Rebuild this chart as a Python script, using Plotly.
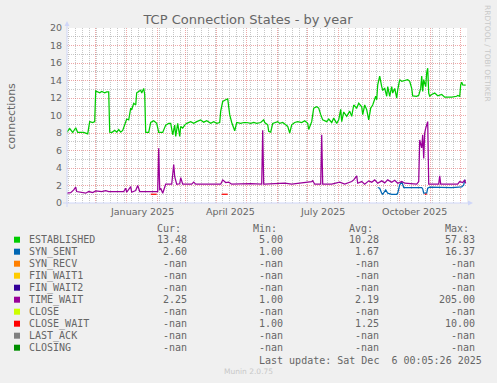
import plotly.graph_objects as go

# ---------------- data ----------------
est_dates = [
    "2024-11-02", "2024-11-05", "2024-11-08", "2024-11-11", "2024-11-13", "2024-11-19", "2024-11-23", "2024-11-25", "2024-11-28", "2024-11-30",
    "2024-12-01", "2024-12-03", "2024-12-05", "2024-12-07", "2024-12-10", "2024-12-12", "2024-12-14", "2024-12-15", "2024-12-17", "2024-12-20",
    "2024-12-22", "2024-12-24", "2024-12-26", "2024-12-28", "2024-12-30",
    "2025-01-01", "2025-01-03", "2025-01-05", "2025-01-06", "2025-01-08", "2025-01-10", "2025-01-11", "2025-01-13", "2025-01-15", "2025-01-16",
    "2025-01-18", "2025-01-19", "2025-01-20", "2025-01-23", "2025-01-25", "2025-01-28", "2025-01-31",
    "2025-02-02", "2025-02-06", "2025-02-09", "2025-02-12", "2025-02-14", "2025-02-16", "2025-02-18", "2025-02-19", "2025-02-21", "2025-02-23",
    "2025-02-24", "2025-02-26", "2025-02-28",
    "2025-03-02", "2025-03-06", "2025-03-09", "2025-03-12", "2025-03-16", "2025-03-19", "2025-03-22", "2025-03-26", "2025-03-29",
    "2025-04-01", "2025-04-04", "2025-04-05", "2025-04-07", "2025-04-10", "2025-04-12", "2025-04-14", "2025-04-16", "2025-04-19", "2025-04-21",
    "2025-04-25", "2025-04-28",
    "2025-05-01", "2025-05-05", "2025-05-08", "2025-05-11", "2025-05-15", "2025-05-18", "2025-05-19", "2025-05-22", "2025-05-23", "2025-05-25",
    "2025-05-27", "2025-05-30",
    "2025-06-01", "2025-06-03", "2025-06-06", "2025-06-09", "2025-06-11", "2025-06-13", "2025-06-15", "2025-06-18", "2025-06-21", "2025-06-25",
    "2025-06-28",
    "2025-07-01", "2025-07-02", "2025-07-05", "2025-07-07", "2025-07-10", "2025-07-12", "2025-07-14", "2025-07-16", "2025-07-20", "2025-07-22",
    "2025-07-25", "2025-07-27", "2025-07-30",
    "2025-08-01", "2025-08-03", "2025-08-04", "2025-08-06", "2025-08-09", "2025-08-12", "2025-08-14", "2025-08-16", "2025-08-19", "2025-08-21",
    "2025-08-24", "2025-08-25", "2025-08-27", "2025-08-29", "2025-08-31",
    "2025-09-02", "2025-09-04", "2025-09-07", "2025-09-08", "2025-09-09", "2025-09-11", "2025-09-13", "2025-09-14", "2025-09-16", "2025-09-18",
    "2025-09-19", "2025-09-21", "2025-09-23", "2025-09-24", "2025-09-26", "2025-09-28", "2025-09-29",
    "2025-10-01", "2025-10-03", "2025-10-06", "2025-10-09", "2025-10-11", "2025-10-13", "2025-10-14", "2025-10-18", "2025-10-20", "2025-10-22",
    "2025-10-23", "2025-10-24", "2025-10-25", "2025-10-27", "2025-10-28", "2025-10-29", "2025-10-30", "2025-10-31",
    "2025-11-02", "2025-11-05", "2025-11-08", "2025-11-12", "2025-11-15", "2025-11-22", "2025-11-27", "2025-11-28", "2025-11-30",
    "2025-12-01", "2025-12-02", "2025-12-03", "2025-12-06",
]
est_values = [
    8.06, 8.5, 8.06, 8.6, 8.06, 8.06, 7.9, 9.3, 9.2, 9.3,
    12.8, 12.7, 12.6, 12.75, 12.6, 12.7, 12.7, 8.1, 8.06, 8.3, 8.1, 8.4, 8.1, 8.3, 9.1,
    9.6, 9.5, 10.85, 10.66, 11.4, 11.2, 12.6, 12.75, 12.9, 12.56, 13.1, 12.4, 8.06, 8.06, 9.2, 9.4, 9.1,
    8.06, 8.06, 8.9, 9.1, 9.1, 7.8, 8.9, 7.6, 9.1, 7.6, 8.75, 8.56, 8.9,
    9.1, 9.3, 9.1, 9.3, 9.5, 9.24, 9.4, 9.1, 9.3,
    9.1, 9.2, 10.5, 11.6, 11.8, 11.9, 10.1, 9.2, 8.25, 9.2, 9.1, 9.2,
    9.2, 9.1, 9.2, 9.1, 9.2, 9.5, 9.2, 8.94, 8.2, 8.1, 9.1, 9.2,
    9.3, 9.1, 9.2, 8.94, 8.75, 8.0, 8.94, 9.2, 9.3, 9.2, 9.4,
    9.1, 8.4, 9.3, 10.85, 11.0, 10.85, 10.1, 9.5, 9.3, 9.6, 9.2, 9.7, 9.1,
    9.5, 10.7, 9.3, 10.4, 9.9, 10.5, 9.9, 11.2, 10.85, 11.4, 11.0, 10.1, 11.2, 10.66, 9.5,
    10.85, 11.2, 12.2, 11.8, 13.5, 14.5, 13.3, 12.9, 13.1, 12.2, 13.3, 12.2, 13.3, 12.56, 13.1, 12.0, 12.94,
    14.1, 13.9, 14.0, 14.1, 13.9, 13.1, 12.25, 12.2, 12.3, 13.1, 14.5, 12.75, 14.1, 13.3, 14.9, 15.4, 12.56, 12.2,
    12.4, 12.56, 12.25, 12.4, 12.1, 12.1, 12.2, 12.3, 12.2,
    13.5, 13.8, 13.5, 13.48,
]

tw_dates = [
    "2024-11-02", "2024-11-06", "2024-11-09", "2024-11-11", "2024-11-12", "2024-11-16", "2024-11-21", "2024-11-24", "2024-11-28",
    "2024-12-01", "2024-12-04", "2024-12-07", "2024-12-11", "2024-12-14", "2024-12-17", "2024-12-22", "2024-12-27", "2024-12-29", "2024-12-31",
    "2025-01-01", "2025-01-05", "2025-01-06", "2025-01-10", "2025-01-12", "2025-01-14", "2025-01-18", "2025-01-21", "2025-01-25", "2025-01-28",
    "2025-01-31",
    "2025-02-01", "2025-02-02", "2025-02-03", "2025-02-04", "2025-02-06", "2025-02-09", "2025-02-13", "2025-02-15", "2025-02-17", "2025-02-18",
    "2025-02-20", "2025-02-23", "2025-02-24", "2025-02-26",
    "2025-03-07", "2025-03-09", "2025-03-11",
    "2025-04-05", "2025-04-07", "2025-04-10", "2025-04-13", "2025-04-16", "2025-04-25",
    "2025-05-05", "2025-05-16", "2025-05-17", "2025-05-18", "2025-05-19",
    "2025-06-08", "2025-06-15",
    "2025-07-05", "2025-07-06", "2025-07-08", "2025-07-14", "2025-07-15", "2025-07-16", "2025-07-25",
    "2025-08-02", "2025-08-07", "2025-08-14", "2025-08-16", "2025-08-19", "2025-08-20", "2025-08-24", "2025-08-27", "2025-08-31",
    "2025-09-03", "2025-09-06", "2025-09-09", "2025-09-13", "2025-09-16", "2025-09-19", "2025-09-23", "2025-09-26", "2025-09-29",
    "2025-10-03", "2025-10-06", "2025-10-13", "2025-10-18", "2025-10-20", "2025-10-21", "2025-10-23", "2025-10-24", "2025-10-25", "2025-10-26",
    "2025-10-27", "2025-10-29", "2025-10-30",
    "2025-11-09", "2025-11-10", "2025-11-11", "2025-11-28", "2025-11-30",
    "2025-12-03", "2025-12-05", "2025-12-06",
]
tw_values = [
    1.12, 1.19, 1.5, 1.8, 1.31, 1.19, 1.12, 1.31, 1.19,
    1.38, 1.31, 1.31, 1.42, 1.31, 1.31, 1.31, 1.23, 1.31, 1.69,
    1.23, 1.88, 1.23, 1.42, 2.0, 1.31, 1.31, 1.31, 1.31, 1.38, 1.31,
    1.31, 6.27, 1.5, 1.69, 1.12, 2.15, 2.15, 2.15, 4.4, 3.0, 2.15, 2.2, 2.9, 2.15,
    2.15, 2.38, 2.15,
    2.15, 2.64, 2.34, 2.38, 2.15, 2.19,
    2.22, 2.15, 8.3, 2.15, 2.15,
    2.26, 2.15,
    2.45, 2.55, 2.15, 2.15, 7.8, 2.15, 2.15,
    2.38, 2.15, 2.45, 2.64, 3.1, 2.26, 2.45, 2.15, 2.53,
    2.38, 2.64, 2.26, 2.53, 2.3, 2.64, 2.38, 2.6, 2.26,
    2.45, 2.26, 2.15, 2.15, 2.45, 7.2, 6.3, 7.8, 5.1, 7.98, 8.55, 9.3, 2.15,
    2.15, 3.1, 2.15, 2.15, 2.45,
    2.34, 2.64, 2.25,
]

ss_dates = [
    "2025-09-09", "2025-09-11", "2025-09-13", "2025-09-14", "2025-09-17", "2025-09-19", "2025-09-23", "2025-09-28", "2025-09-29",
    "2025-10-01", "2025-10-03", "2025-10-04", "2025-10-05", "2025-10-23", "2025-10-24", "2025-10-25", "2025-10-28", "2025-10-29", "2025-10-31",
    "2025-11-22", "2025-12-02", "2025-12-04", "2025-12-05", "2025-12-06",
]
ss_values = [
    1.77, 1.69, 1.12, 1.0, 1.5, 1.12, 1.0, 1.0, 1.12,
    2.07, 2.45, 2.07, 1.77, 1.77, 1.61, 1.12, 1.12, 1.69, 1.8,
    1.77, 1.84, 2.07, 2.6, 2.6,
]

cw_dates = ["2025-01-25", "2025-01-31", "2025-02-01", "2025-04-06", "2025-04-12", "2025-04-13", "2025-10-26", "2025-10-28"]
cw_values = [1.0, 1.0, None, 1.0, 1.0, None, 1.0, 1.0]

series_names = ["ESTABLISHED", "SYN_SENT", "SYN_RECV", "FIN_WAIT1", "FIN_WAIT2",
                "TIME_WAIT", "CLOSE", "CLOSE_WAIT", "LAST_ACK", "CLOSING"]
series_colors = ["#00CC00", "#0066B3", "#FF8000", "#FFCC00", "#330099",
                 "#990099", "#CCFF00", "#FF0000", "#808080", "#008F00"]
cur_vals = ["13.48", "2.60", "-nan", "-nan", "-nan", "2.25", "-nan", "-nan", "-nan", "-nan"]
min_vals = ["5.00", "1.00", "-nan", "-nan", "-nan", "1.00", "-nan", "1.00", "-nan", "-nan"]
avg_vals = ["10.28", "1.67", "-nan", "-nan", "-nan", "2.19", "-nan", "1.25", "-nan", "-nan"]
max_vals = ["57.83", "16.37", "-nan", "-nan", "-nan", "205.00", "-nan", "10.00", "-nan", "-nan"]

month_label_dates = ["2025-01-16", "2025-04-15", "2025-07-16", "2025-10-16"]
month_labels = ["January 2025", "April 2025", "July 2025", "October 2025"]

# ---------------- geometry helpers ----------------
W, H = 497, 383
L, R, T, B = 67, 30, 28, 180
PW = W - L - R
PH = H - T - B
BOT = H - B


def px(x):
    return (x - L) / PW


def py(y):
    return (BOT - y) / PH


FONT = "#666666"
AXIS = "#CFD6F8"
MGRID = "rgba(222,79,79,0.5)"
GRID = "rgba(143,143,143,0.5)"

fig = go.Figure()
lines = [
    (est_dates, est_values, "#00CC00"),
    (ss_dates, ss_values, "#0066B3"),
    (tw_dates, tw_values, "#990099"),
    (cw_dates, cw_values, "#FF0000"),
]
for xs, ys, col in lines:
    fig.add_trace(go.Scatter(x=xs, y=ys, mode="lines", line=dict(color=col, width=1.25),
                             connectgaps=False, hoverinfo="skip", showlegend=False))

annotations = []
shapes = []

# month labels
for d, t in zip(month_label_dates, month_labels):
    annotations.append(dict(x=d, y=py(211.7), xref="x", yref="paper", text=t, showarrow=False,
                            xanchor="center", yanchor="middle",
                            font=dict(family="DejaVu Sans", size=9.5, color=FONT)))

# y axis title
annotations.append(dict(x=px(11), y=py(115.5), xref="paper", yref="paper", text="connections",
                        textangle=-90, showarrow=False, xanchor="center", yanchor="middle",
                        font=dict(family="DejaVu Sans", size=11, color=FONT)))
# rrdtool credit
annotations.append(dict(x=px(488), y=py(53), xref="paper", yref="paper", text="RRDTOOL / TOBI OETIKER",
                        textangle=90, showarrow=False, xanchor="center", yanchor="middle",
                        font=dict(family="DejaVu Sans", size=7.5, color="#C8C8C8")))
# munin version
annotations.append(dict(x=px(248), y=py(371.7), xref="paper", yref="paper", text="Munin 2.0.75",
                        showarrow=False, xanchor="center", yanchor="middle",
                        font=dict(family="DejaVu Sans", size=7.5, color="#C8C8C8")))

mono = dict(family="DejaVu Sans Mono", size=10, color=FONT)
# legend header
for txt, xr in zip(["Cur:", "Min:", "Avg:", "Max:"], [182.7, 278.7, 374.7, 470.7]):
    annotations.append(dict(x=px(xr), y=py(228.3), xref="paper", yref="paper", text=txt,
                            showarrow=False, xanchor="right", yanchor="middle", font=mono))
# legend rows
for i, name in enumerate(series_names):
    yc = 239.7 + 12 * i
    shapes.append(dict(type="rect", xref="paper", yref="paper", x0=px(14), x1=px(20),
                       y0=py(yc + 3), y1=py(yc - 3), fillcolor=series_colors[i], line=dict(width=0)))
    annotations.append(dict(x=px(26.7), y=py(yc), xref="paper", yref="paper", text=name,
                            showarrow=False, xanchor="left", yanchor="middle", font=mono))
    for vals, xr in zip([cur_vals, min_vals, avg_vals, max_vals], [188.7, 284.7, 380.7, 476.7]):
        annotations.append(dict(x=px(xr), y=py(yc), xref="paper", yref="paper", text=vals[i],
                                showarrow=False, xanchor="right", yanchor="middle", font=mono))
annotations.append(dict(x=px(483.7), y=py(360), xref="paper", yref="paper",
                        text="Last update: Sat Dec\u00a0\u00a06 00:05:26 2025",
                        showarrow=False, xanchor="right", yanchor="middle", font=mono))

# axes lines and arrows
shapes.append(dict(type="line", xref="paper", yref="paper", x0=px(67), x1=px(67), y0=py(207), y1=py(25),
                   line=dict(color=AXIS, width=1)))
shapes.append(dict(type="line", xref="paper", yref="paper", x0=px(63), x1=px(469), y0=py(203), y1=py(203),
                   line=dict(color=AXIS, width=1)))
shapes.append(dict(type="path", xref="paper", yref="paper",
                   path=f"M {px(64.5)} {py(26)} L {px(69.5)} {py(26)} L {px(67)} {py(21)} Z",
                   fillcolor=AXIS, line=dict(width=0)))
shapes.append(dict(type="path", xref="paper", yref="paper",
                   path=f"M {px(468)} {py(200.5)} L {px(468)} {py(205.5)} L {px(473)} {py(203)} Z",
                   fillcolor=AXIS, line=dict(width=0)))

fig.update_layout(
    width=W, height=H,
    margin=dict(l=L, r=R, t=T, b=B, pad=0),
    paper_bgcolor="#F0F0F0", plot_bgcolor="#FFFFFF",
    showlegend=False,
    title=dict(text="TCP Connection States - by year", x=248 / W, xref="container", xanchor="center",
               y=1 - 19 / H, yref="container", yanchor="middle",
               font=dict(family="DejaVu Sans", size=13, color=FONT)),
    xaxis=dict(type="date", range=["2024-11-02 07:00", "2025-12-07 07:00"],
               tickmode="linear", tick0="2024-12-01", dtick="M1", showticklabels=False,
               showgrid=True, gridcolor=MGRID, griddash="1px,1px", gridwidth=1,
               ticks="", zeroline=False, showline=False,
               minor=dict(tick0="2024-12-02", dtick=7 * 86400000, showgrid=True,
                          gridcolor=GRID, griddash="1px,1px", gridwidth=1, ticks="")),
    yaxis=dict(range=[0, 20], tickmode="linear", tick0=0, dtick=2,
               showgrid=True, gridcolor=MGRID, griddash="1px,1px", gridwidth=1,
               ticks="", zeroline=False, showline=False, ticklabelstandoff=4,
               tickfont=dict(family="DejaVu Sans", size=9.5, color=FONT),
               minor=dict(dtick=1, showgrid=True, gridcolor=GRID, griddash="1px,1px", gridwidth=1, ticks="")),
    annotations=annotations,
    shapes=shapes,
)

fig.write_html(
    "out.html",
    config=dict(displayModeBar=False, staticPlot=True),
    post_script="document.body.style.margin='0';document.body.style.background='#F0F0F0';",
)
